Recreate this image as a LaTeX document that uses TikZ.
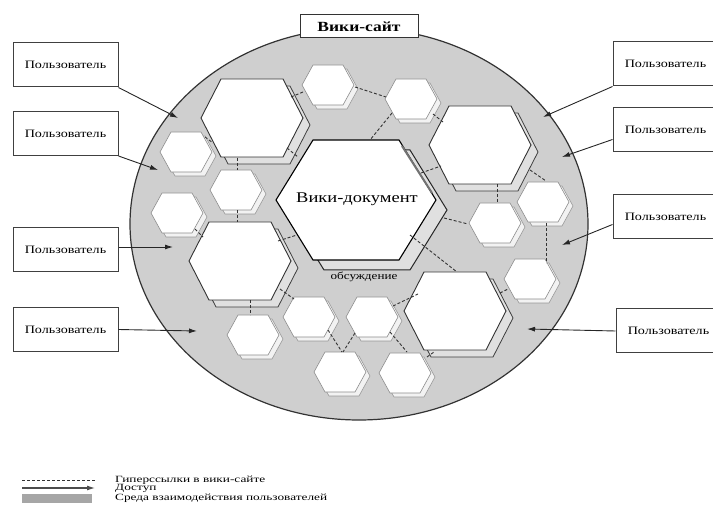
\documentclass[tikz,border=0pt]{standalone}
\usepackage{fontspec}
\setmainfont{Liberation Serif}
\newfontfamily\widefont[FakeStretch=1.25]{Liberation Serif}
\newfontfamily\widerfont[FakeStretch=1.4]{Liberation Serif}
\usetikzlibrary{arrows.meta,calc}
\newcommand\hexpoly[5]{({#1-#3},{#2}) -- ({#1-#5},{#2-#4}) -- ({#1+#5},{#2-#4}) -- ({#1+#3},{#2}) -- ({#1+#5},{#2+#4}) -- ({#1-#5},{#2+#4}) -- cycle}
\newcommand\smallhex[3]{%
  \filldraw[smallshadow] \hexpoly{#2+4}{#3+4}{26}{20}{15};
  \filldraw[smallhexst] \hexpoly{#2}{#3}{26}{20}{15};
  \coordinate (#1) at (#2,#3);}
\newcommand\bighex[3]{%
  \filldraw[bigshadow] \hexpoly{#2+7}{#3+7}{51}{39}{31};
  \filldraw[bighexst] \hexpoly{#2}{#3}{51}{39}{31};
  \coordinate (#1) at (#2,#3);}
\begin{document}
\begin{tikzpicture}[x=1pt,y=-1pt,
  bg/.style={fill=black!19},
  smallshadow/.style={fill=black!5,draw=black!40,line width=0.6pt},
  smallhexst/.style={fill=white,draw=black!45,line width=0.6pt},
  bigshadow/.style={fill=black!12,draw=black!75,line width=0.8pt},
  bighexst/.style={fill=white,draw=black!80,line width=0.9pt},
  userbox/.style={draw=black!75,line width=1pt,fill=white,minimum width=105pt,minimum height=44pt,inner sep=0pt,font=\widefont\fontsize{11.3}{12}\selectfont},
  arr/.style={-{Latex[length=8pt,width=5pt]},line width=0.9pt,black!85},
  link/.style={dash pattern=on 3pt off 2pt,line width=0.9pt,black!80},
  legtext/.style={anchor=west,inner sep=0pt,font=\widerfont\fontsize{9.5}{10}\selectfont}]
\useasboundingbox (0,0) rectangle (713,513);
% site
\filldraw[bg,draw=black!80,line width=1.2pt] (359,224) ellipse [x radius=229pt, y radius=196pt];
\node[draw=black!80,line width=1pt,fill=white,minimum width=118pt,minimum height=23pt,inner sep=0pt,font=\widefont\bfseries\fontsize{14}{15}\selectfont] (site) at (359,26.5) {Вики-сайт};
% wiki document
\filldraw[bigshadow,draw=black!85,line width=1pt] \hexpoly{367}{210}{80}{60}{43};
\filldraw[bighexst,draw=black,line width=1.1pt] \hexpoly{356}{200}{80}{60}{43};
\draw[black!55,line width=2pt] (402,146) -- (432,193);
\node[font=\widefont\fontsize{14.8}{16}\selectfont] (doc) at (357,199) {Вики-документ};
\node[font=\widefont\fontsize{10.5}{11}\selectfont] (talk) at (364,277) {обсуждение};
% big hexagons
\bighex{tl}{252}{118}
\bighex{tr}{480}{145}
\bighex{bl}{240}{261}
\bighex{br}{455}{311}
% small hexagons
\smallhex{h1}{328}{85}
\smallhex{h2}{411}{99}
\smallhex{h3}{543}{202}
\smallhex{h4}{495}{223}
\smallhex{h5}{530}{279}
\smallhex{h6}{372}{317}
\smallhex{h7}{309}{317}
\smallhex{h8}{253}{335}
\smallhex{h9}{340}{372}
\smallhex{h10}{405}{373}
\smallhex{h11}{186}{152}
\smallhex{h12}{236}{190}
\smallhex{h13}{177}{213}
% hyperlinks
\foreach \a/\b/\c/\d [count=\i] in {291/97/303/92, 355/87/386/97, 392/113/370/140, 433/114/443/122,
  287/148/298/157, 237/158/237/170, 237/210/237/222, 205/137/213/143, 195/229/203/237,
  278/241/297/235, 421/173/441/166, 444/218/468/224, 410/235/457/272, 497/184/497/203,
  530/170/546/181, 546/223/546/263, 500/293/508/289, 393/306/418/294, 427/357/434/352,
  390/332/407/352, 355/333/343/352, 328/330/342/352, 280/289/294/299, 250/300/250/315}{
  \coordinate (la\i) at (\a,\b);
  \coordinate (lb\i) at (\c,\d);
  \draw[link] (la\i) -- (lb\i);
}
% users
\node[userbox] (u1) at (65.5,65) {Пользователь};
\node[userbox] (u2) at (65.5,133.5) {Пользователь};
\node[userbox] (u3) at (65.5,250) {Пользователь};
\node[userbox] (u4) at (65.5,329.5) {Пользователь};
\node[userbox] (u5) at (665.5,64) {Пользователь};
\node[userbox] (u6) at (665.5,129.5) {Пользователь};
\node[userbox] (u7) at (665.5,216.5) {Пользователь};
\node[userbox] (u8) at (668.5,331) {Пользователь};
\coordinate (t1) at (178,118);
\coordinate (t2) at (158,170);
\coordinate (t3) at (173,247);
\coordinate (t4) at (197,331);
\coordinate (t5) at (543,117);
\coordinate (t6) at (562,157);
\coordinate (t7) at (562,245);
\coordinate (t8) at (527,329);
\draw[arr] (u1.south east) -- (t1);
\draw[arr] (u2.south east) -- (t2);
\draw[arr] ([yshift=3pt]u3.east) -- (t3);
\draw[arr] (u4.east) -- (t4);
\draw[arr] (u5.south west) -- (t5);
\draw[arr] ([yshift=-10pt]u6.west) -- (t6);
\draw[arr] ([yshift=-8pt]u7.west) -- (t7);
\draw[arr] (u8.west) -- (t8);
% legend
\coordinate (k1a) at (22,480); \coordinate (k1b) at (95,480);
\coordinate (k2a) at (22,488); \coordinate (k2b) at (95,488);
\draw[link] (k1a) -- (k1b);
\draw[arr,line width=1.1pt,black!70] (k2a) -- (k2b);
\fill[black!35] (22,494) rectangle (92,503);
\node[legtext] (g1) at (115,480) {Гиперссылки в вики-сайте};
\node[legtext] (g2) at (115,488.5) {Доступ};
\node[legtext] (g3) at (115,498) {Среда взаимодействия пользователей};
\end{tikzpicture}
\end{document}
